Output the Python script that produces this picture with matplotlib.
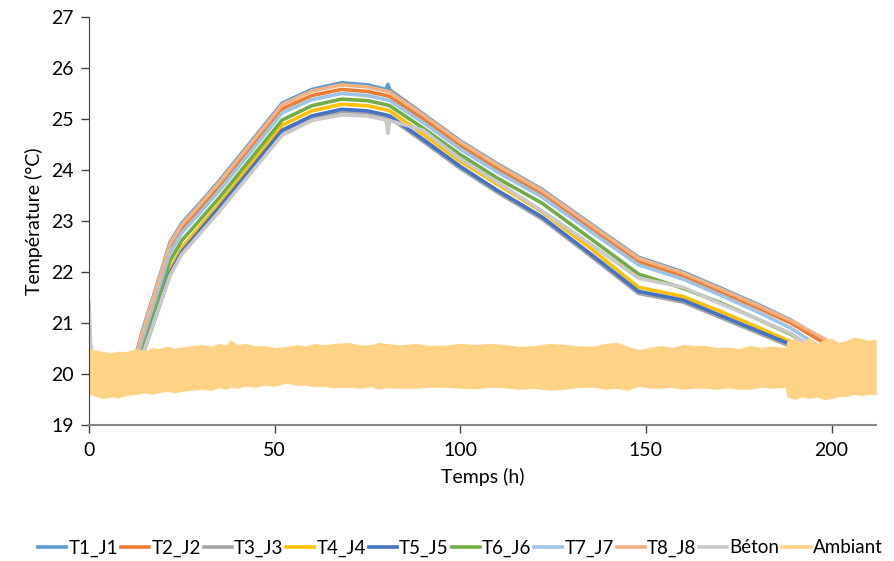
import numpy as np
import matplotlib
matplotlib.use("Agg")
import matplotlib.pyplot as plt

plt.rcParams['font.family'] = ['Lato', 'DejaVu Sans']

# time axis shared by the sensor curves (h)
hours = [12, 14.5, 17, 19.5, 21.8, 25, 29, 35, 42, 52, 60, 68, 75, 80, 80.5, 81,
         90, 100, 110, 122, 135, 148, 160, 170, 180, 189]

t1 = [20.2, 20.88, 21.45, 22.03, 22.58, 22.96, 23.28, 23.78, 24.41, 25.31, 25.58, 25.71, 25.67,
      25.58, 25.68, 25.57, 25.1, 24.57, 24.12, 23.62, 22.95, 22.29, 22.0, 21.69, 21.37, 21.06]
t2 = [20.15, 20.78, 21.35, 21.92, 22.47, 22.85, 23.17, 23.67, 24.3, 25.2, 25.46, 25.58, 25.54,
      25.46, 25.45, 25.44, 25.0, 24.47, 24.02, 23.52, 22.86, 22.2, 21.92, 21.61, 21.3, 21.0]
t3 = [19.86, 20.38, 20.91, 21.44, 21.94, 22.36, 22.7, 23.22, 23.84, 24.74, 25.02, 25.15, 25.12,
      25.04, 25.03, 25.02, 24.56, 24.03, 23.56, 23.04, 22.32, 21.58, 21.41, 21.11, 20.81, 20.54]
t4 = [19.95, 20.5, 21.02, 21.55, 22.04, 22.48, 22.82, 23.33, 23.97, 24.88, 25.16, 25.29, 25.26,
      25.18, 25.17, 25.16, 24.7, 24.17, 23.72, 23.18, 22.47, 21.7, 21.52, 21.23, 20.92, 20.63]
t5 = [19.9, 20.42, 20.95, 21.48, 21.98, 22.4, 22.74, 23.26, 23.88, 24.78, 25.06, 25.19, 25.16,
      25.08, 25.07, 25.06, 24.6, 24.07, 23.6, 23.08, 22.36, 21.62, 21.45, 21.15, 20.85, 20.58]
t6 = [20.0, 20.6, 21.15, 21.7, 22.22, 22.62, 22.95, 23.45, 24.08, 24.98, 25.26, 25.39, 25.36,
      25.28, 25.27, 25.26, 24.82, 24.3, 23.84, 23.35, 22.66, 21.96, 21.68, 21.4, 21.08, 20.78]
t7 = [20.1, 20.72, 21.28, 21.85, 22.38, 22.77, 23.09, 23.59, 24.22, 25.12, 25.38, 25.5, 25.46,
      25.38, 25.37, 25.36, 24.93, 24.41, 23.96, 23.47, 22.8, 22.14, 21.86, 21.55, 21.22, 20.9]
t8 = [20.2, 20.85, 21.42, 22.0, 22.55, 22.93, 23.25, 23.75, 24.38, 25.28, 25.55, 25.67, 25.63,
      25.55, 25.54, 25.53, 25.08, 24.55, 24.1, 23.6, 22.93, 22.27, 21.98, 21.67, 21.35, 21.05]
beton = [19.9, 20.4, 20.92, 21.45, 21.93, 22.35, 22.68, 23.18, 23.8, 24.68, 24.97, 25.08, 25.06,
         24.98, 24.72, 24.97, 24.78, 24.22, 23.76, 23.2, 22.55, 21.88, 21.7, 21.38, 21.08, 20.8]

# last logged point of every series (h, °C)
end_hours = [201, 200, 190, 191, 190, 196, 197.5, 202, 194]
end_values = [20.52, 20.52, 20.5, 20.57, 20.55, 20.48, 20.5, 20.53, 20.55]

# béton probe starts warm at t=0
beton_start_hours = [0, 0.4, 1.5]
beton_start = [21.4, 20.6, 20.2]

# ambient air: envelope of the fluctuating signal
amb_hours = [0, 2, 4, 6, 8, 10, 13, 15, 17, 19, 21, 23, 25, 28, 30, 33, 35, 37, 38, 40, 42,
             45, 47, 50, 53, 56, 58, 61, 63, 66, 70, 73, 76, 78, 80, 84, 88, 92, 96, 100,
             104, 108, 112, 116, 120, 124, 128, 132, 136, 139, 142, 145, 148, 151, 154, 157,
             160, 163, 166, 169, 172, 175, 178, 181, 184, 187.5, 188, 190, 192, 194, 196,
             198, 200, 202, 204, 206, 208, 210, 212]
amb_high = [20.5, 20.47, 20.44, 20.42, 20.45, 20.44, 20.5, 20.46, 20.52, 20.5, 20.55, 20.51,
            20.53, 20.56, 20.58, 20.55, 20.6, 20.57, 20.67, 20.58, 20.6, 20.55, 20.56, 20.52,
            20.54, 20.58, 20.55, 20.6, 20.57, 20.6, 20.62, 20.57, 20.58, 20.62, 20.6, 20.57,
            20.6, 20.56, 20.57, 20.6, 20.58, 20.6, 20.58, 20.54, 20.56, 20.6, 20.58, 20.55,
            20.55, 20.6, 20.62, 20.55, 20.48, 20.52, 20.56, 20.52, 20.58, 20.56, 20.56,
            20.52, 20.53, 20.5, 20.56, 20.52, 20.55, 20.52, 20.65, 20.7, 20.62, 20.72, 20.6,
            20.68, 20.7, 20.62, 20.66, 20.72, 20.7, 20.66, 20.68]
amb_low = [19.6, 19.56, 19.52, 19.55, 19.53, 19.58, 19.6, 19.63, 19.6, 19.64, 19.66, 19.63,
           19.66, 19.68, 19.7, 19.68, 19.73, 19.7, 19.74, 19.72, 19.76, 19.74, 19.78, 19.76,
           19.82, 19.78, 19.78, 19.75, 19.76, 19.73, 19.74, 19.72, 19.75, 19.7, 19.73, 19.72,
           19.72, 19.74, 19.74, 19.72, 19.71, 19.74, 19.73, 19.7, 19.72, 19.68, 19.7, 19.74,
           19.74, 19.7, 19.72, 19.68, 19.76, 19.72, 19.72, 19.74, 19.7, 19.72, 19.72, 19.7,
           19.73, 19.7, 19.7, 19.74, 19.72, 19.74, 19.56, 19.5, 19.55, 19.52, 19.55, 19.5,
           19.52, 19.56, 19.56, 19.6, 19.58, 19.6, 19.6]

names = ["T1_J1", "T2_J2", "T3_J3", "T4_J4", "T5_J5", "T6_J6", "T7_J7", "T8_J8", "Béton", "Ambiant"]
colors = ["#5B9BD5", "#ED7D31", "#A5A5A5", "#FFC000", "#4472C4", "#70AD47",
          "#9DC3E6", "#F4B183", "#C9C9C9", "#FFD286"]

fig = plt.figure(figsize=(8.94, 5.61), dpi=100)
ax = fig.add_axes([0.0996, 0.2424, 0.8804, 0.7273])

series = [t1, t2, t3, t4, t5, t6, t7, t8]
for i, vals in enumerate(series):
    x = hours + [end_hours[i]]
    y = vals + [end_values[i]]
    ax.plot(x, y, color=colors[i], lw=2.6, label=names[i], zorder=2)

ax.plot(beton_start_hours + hours + [end_hours[8]], beton_start + beton + [end_values[8]],
        color=colors[8], lw=2.6, label=names[8], zorder=2)

# ambient is the last series, drawn over the others
ax.fill_between(amb_hours, amb_low, amb_high, color=colors[9], lw=0, zorder=3)
ax.plot([], [], color=colors[9], lw=2.6, label=names[9])

ax.set_xlim(0, 212)
ax.set_ylim(19, 27)
ax.set_xticks([0, 50, 100, 150, 200])
ax.set_yticks(range(19, 28))
ax.tick_params(labelsize=14, length=6, width=1, colors='#404040', labelcolor='black')
ax.tick_params(axis='y', pad=5)
ax.tick_params(axis='x', pad=6)
for s in ['top', 'right']:
    ax.spines[s].set_visible(False)
ax.spines['left'].set_color('#404040')
ax.spines['bottom'].set_color('#868686')
ax.spines['bottom'].set_linewidth(1.5)
ax.spines['left'].set_zorder(4)
ax.spines['bottom'].set_zorder(4)

ax.set_xlabel("Temps (h)", fontsize=14, labelpad=7)
ax.set_ylabel("Température (°C)", fontsize=14, labelpad=6)

fig.legend(loc='center', bbox_to_anchor=(0.515, 0.023), ncol=10, frameon=False,
           fontsize=13.5, handlelength=1.5, handletextpad=0.12, columnspacing=0.15)

fig.savefig("out.png", dpi=100)
